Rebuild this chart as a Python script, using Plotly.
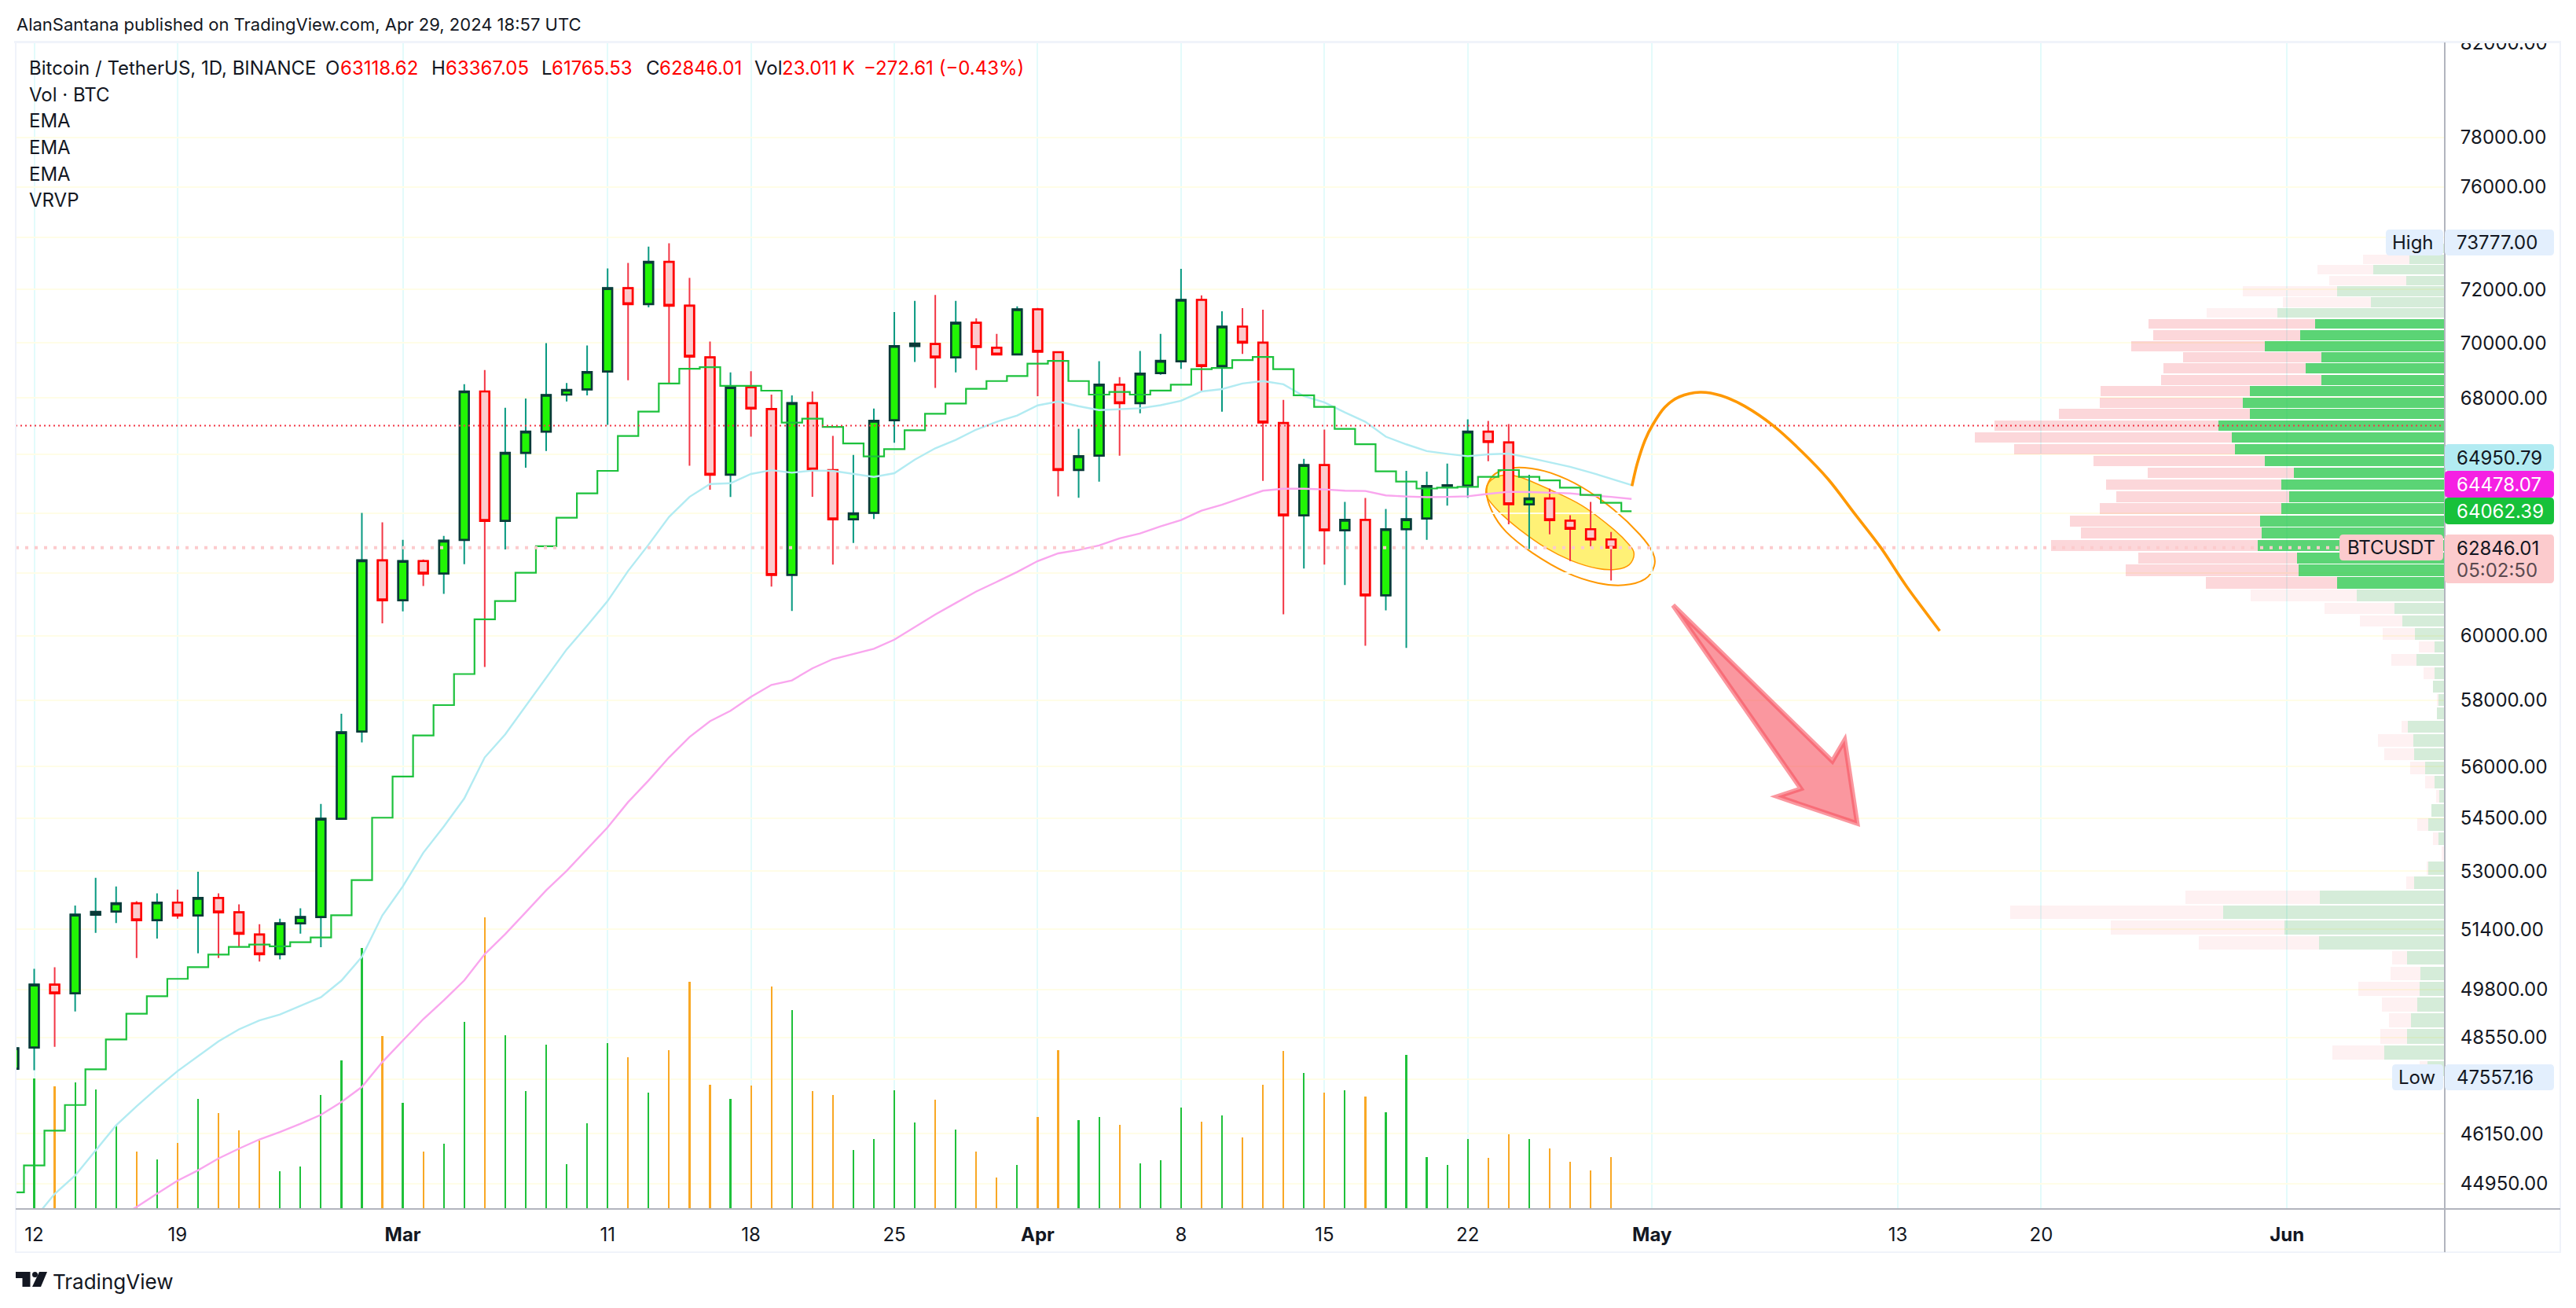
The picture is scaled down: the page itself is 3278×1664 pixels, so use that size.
import pandas as pd
import plotly.graph_objects as go

# ---------- data ----------
opens = [47761,48298,49926,49698,51799,51885,52112,51648,52129,51778,52258,51864,51261,50733,51562,51734,54483,57045,62429,61131,62404,61996,63105,68236,63742,66063,66809,68123,68311,68956,72052,71452,73056,71392,69475,65307,68388,67606,61953,67819,65468,63795,64007,67210,69888,69965,69475,70752,69824,69579,71253,69663,65471,65966,68478,67819,68899,69327,71608,69159,70608,70012,67111,63927,65640,63423,63774,61288,63460,63821,64920,64935,66807,66428,64299,64495,63744,63460,63118.62]
highs = [48357,50340,50381,52047,52812,52575,52166,52381,52489,52985,52381,52079,51540,51691,51972,54911,57584,64007,63689,63105,62454,63238,68495,69014,67653,67984,69994,68539,69908,72804,73014,73645,73777,72443,70052,68928,68965,68123,68095,68236,66658,65994,67625,71151,71572,71791,71572,70917,70340,71361,71307,69680,66906,69332,68755,69706,70340,72789,71782,71181,71301,71241,67930,65855,66879,64378,64511,64140,65440,65413,65690,67238,67183,67072,65307,64829,63927,64378,63367.05]
lows = [47557.16,47722,48317,49222,51303,51573,50630,51152,51691,50754,50630,50928,50534,50594,51282,50920,54483,56717,60392,60774,61589,61334,62302,59017,62787,65551,66132,67874,68095,67044,68639,71331,68538,65615,64795,64545,66630,61571,60787,64551,62286,63000,63803,66417,69302,68363,68927,69014,69579,69579,68067,64569,64522,65071,65966,67459,68841,69054,68207,67514,69600,65095,60677,62159,62286,61624,59682,60805,59613,63105,64256,64522,65772,63622,62797,63291,62404,62893,61765.53]
closes = [48278,49926,49698,51799,51875,52112,51648,52129,51778,52258,51864,51282,50733,51562,51734,54483,57022,62429,61131,62404,61996,63078,68236,63742,66063,66809,68109,68293,68939,72052,71452,73056,71392,69504,65307,68388,67625,61953,67819,65496,63795,63991,67191,69888,69980,69475,70752,69856,69579,71253,69682,65471,65947,68478,67819,68879,69343,71608,69159,70608,70012,67130,63927,65640,63423,63774,61288,63460,63795,64920,64949,66807,66445,64304,64495,63768,63477,63118.62,62846.01]
volumes_k = [21,58.1,54.5,56.3,53.1,37.3,25.5,21.9,29.3,48.9,42.7,35,30.4,16.7,18.8,50.7,66.1,116.2,76.9,47.1,25.5,29,83.3,129.8,77.2,52.5,73.1,19.9,38.1,73.8,67.4,51.7,70.7,101.1,55.3,48.9,54.8,99,88.5,52.5,50.7,26.2,31.1,52.8,38.4,48.6,35.3,25.5,13.9,19.6,40.9,70.7,39.4,40.9,37.3,20.3,21.6,45.1,38.8,41.6,31.7,55.3,70.2,60.5,51.7,52.8,49.9,43,68.5,23,19.6,31.1,22.7,33.2,31.1,26.8,20.9,17,23.011]
ema_green = [44751,45390,46228,46857,47744,48502,49166,49622,50077,50385,50719,50928,50990,50940,51053,51180,51782,52750,54513,55709,56928,57845,58798,60519,61105,62022,62893,63848,64670,65441,66657,67514,68524,69055,69112,68437,68437,68264,67127,67266,66972,66394,65939,66193,66854,67437,67802,68334,68611,68795,69245,69343,68611,68123,68218,68123,68270,68478,69043,69083,69371,69486,69043,68098,67683,66906,66366,65424,65071,64835,64864,64893,65233,65468,65233,65111,64864,64617,64352,64062.39]
ema_blue = [44129,44714,45148,45752,46357,46824,47273,47702,48079,48456,48762,48994,49146,49377,49595,50029,50661,51778,52575,53516,54259,55068,56272,56959,57821,58700,59567,60316,61105,62080,62946,63874,64551,64989,65015,65333,65466,65376,65451,65441,65333,65233,65360,65827,66223,66519,66879,67155,67376,67736,67874,67708,67570,67597,67636,67744,67902,68236,68322,68524,68611,68495,68067,67846,67487,67155,66630,66362,66124,66030,65947,66014,66040,65892,65745,65579,65386,65174,64950.79]
ema_pink = [44129,44407,44718,45027,45272,45557,45792,46015,46195,46395,46615,46929,47305,47930,48476,49025,49512,50034,50733,51271,51864,52467,53007,53617,54236,54963,55592,56272,56881,57357,57671,58097,58463,58602,58976,59262,59433,59586,59872,60265,60672,61041,61411,61724,62047,62404,62658,62771,62919,63157,63317,63557,63768,64086,64285,64522,64760,64829,64829,64803,64760,64750,64599,64564,64538,64551,64569,64654,64723,64713,64683,64670,64599,64551,64478.07]
first_date = "2024-02-11"

# volume-by-price rows, lowest price first
vp_low, vp_high = 47557.16, 73777.00
vp_up = [40,138,86,77,63,57,56,86,286,365,504,284,70,38,1,15,38,31,13,23,45,70,72,84,18,15,27,23,65,23,68,97,115,200,245,332,336,425,416,420,372,354,372,343,409,477,484,515,443,459,443,281,316,281,409,329,295,381,168,245,88,163,81,50]
vp_down = [17,118,61,50,80,139,68,34,273,394,484,306,18,3,7,12,25,0,6,21,34,68,79,14,0,3,0,25,57,36,73,96,158,241,298,393,361,470,411,432,412,393,398,332,390,502,584,509,434,325,340,363,324,314,303,334,378,161,200,214,175,127,105,70]
vp_strong = (34, 56)

y_tickvals = [82000,78000,76000,74000,72000,70000,68000,66000,64000,62000,60000,58000,56000,54500,53000,51400,49800,48550,47500,46150,44950]
x_tickvals = ["2024-02-12","2024-02-19","2024-03-01","2024-03-11","2024-03-18","2024-03-25","2024-04-01","2024-04-08","2024-04-15","2024-04-22","2024-05-01","2024-05-13","2024-05-20","2024-06-01"]
x_ticktext = ["12","19","<b>Mar</b>","11","18","25","<b>Apr</b>","8","15","22","<b>May</b>","13","20","<b>Jun</b>"]
poc_price = 67017
last_close = closes[-1]

# ---------- page geometry ----------
W, H = 3278, 1664
L, R, T, B = 20, 3111, 54, 1538
FONT = "Inter, Roboto, sans-serif"
INK = "#131722"

def px(x): return (x - L) / (R - L)
def py(y): return (B - y) / (B - T)

def smooth(points, closed=False):
    n = len(points)
    def at(i):
        return points[i % n] if closed else points[max(0, min(n - 1, i))]
    d = f"M{px(points[0][0])},{py(points[0][1])}"
    for i in range(n if closed else n - 1):
        p0, p1, p2, p3 = at(i - 1), at(i), at(i + 1), at(i + 2)
        c1 = (p1[0] + (p2[0] - p0[0]) / 6, p1[1] + (p2[1] - p0[1]) / 6)
        c2 = (p2[0] - (p3[0] - p1[0]) / 6, p2[1] - (p3[1] - p1[1]) / 6)
        d += f" C{px(c1[0])},{py(c1[1])} {px(c2[0])},{py(c2[1])} {px(p2[0])},{py(p2[1])}"
    return d + (" Z" if closed else "")

def polygon(points):
    return "M" + " L".join(f"{px(x)},{py(y)}" for x, y in points) + " Z"

def rrect(x0, y0, x1, y1, r=5):
    pts = [(x0 + r, y0), (x1 - r, y0), (x1, y0 + r), (x1, y1 - r), (x1 - r, y1), (x0 + r, y1), (x0, y1 - r), (x0, y0 + r)]
    P = lambda p: f"{px(p[0])},{py(p[1])}"
    return (f"M{P(pts[0])} L{P(pts[1])} Q{P((x1,y0))} {P(pts[2])} L{P(pts[3])} Q{P((x1,y1))} {P(pts[4])} "
            f"L{P(pts[5])} Q{P((x0,y1))} {P(pts[6])} L{P(pts[7])} Q{P((x0,y0))} {P(pts[0])} Z")

# ---------- traces ----------
dates = pd.date_range(first_date, periods=len(opens) + 1, freq="D")
cdates = dates[:len(opens)]
fig = go.Figure()

vol_colors = ["#1fc13b" if c >= o else "#f9a825" for o, c in zip(opens, closes)]
fig.add_trace(go.Bar(x=cdates, y=volumes_k, width=7.3e6, marker=dict(color=vol_colors, line_width=0), xaxis="x", yaxis="y"))

fig.add_trace(go.Candlestick(x=cdates, open=opens, high=highs, low=lows, close=closes, xaxis="x", yaxis="y2",
    increasing=dict(line=dict(color="#089981", width=2), fillcolor="#089981"),
    decreasing=dict(line=dict(color="#f23645", width=2), fillcolor="#f23645")))
fig.add_trace(go.Candlestick(x=cdates, open=opens, close=closes,
    high=[max(o, c) for o, c in zip(opens, closes)], low=[min(o, c) for o, c in zip(opens, closes)],
    xaxis="x", yaxis="y2",
    increasing=dict(line=dict(color="#0a3a38", width=2.7), fillcolor="#22f505"),
    decreasing=dict(line=dict(color="#ff0000", width=2.7), fillcolor="#fccbcd")))

fig.add_trace(go.Scatter(x=dates[-len(ema_blue):], y=ema_blue, mode="lines", line=dict(color="#b2ebf2", width=2.4), xaxis="x", yaxis="y2"))
fig.add_trace(go.Scatter(x=dates[-len(ema_pink):], y=ema_pink, mode="lines", line=dict(color="#f9a6ee", width=2.4), xaxis="x", yaxis="y2"))
fig.add_trace(go.Scatter(x=dates[-len(ema_green):], y=ema_green, mode="lines", line=dict(color="#1cc13c", width=2.2, shape="hvh"), xaxis="x", yaxis="y2"))

step = (vp_high - vp_low) / len(vp_up)
vp_prices = [vp_low + step * (k + 0.5) for k in range(len(vp_up))]
strong = [vp_strong[0] <= k <= vp_strong[1] for k in range(len(vp_up))]
fig.add_trace(go.Bar(orientation="h", y=vp_prices, x=vp_up, width=step * 0.89, xaxis="x2", yaxis="y2",
    marker=dict(color=["rgba(28,196,64,.72)" if s else "rgba(46,160,67,.2)" for s in strong], line_width=0)))
fig.add_trace(go.Bar(orientation="h", y=vp_prices, x=vp_down, width=step * 0.89, xaxis="x2", yaxis="y2",
    marker=dict(color=["rgba(242,54,69,.2)" if s else "rgba(242,54,69,.07)" for s in strong], line_width=0)))

VP_SPAN = 5520
fig.add_trace(go.Scatter(x=[VP_SPAN, 0], y=[poc_price, poc_price], mode="lines", xaxis="x2", yaxis="y2",
    line=dict(color="#f23645", width=2, dash="2px,4px")))
fig.add_trace(go.Scatter(x=[VP_SPAN, 0], y=[last_close, last_close], mode="lines", xaxis="x2", yaxis="y2",
    line=dict(color="#fccbcd", width=4, dash="4px,8px")))

# ---------- drawings ----------
z8 = lambda pts: [(1800 + a / 3, 480 + b / 3) for a, b in pts]
z11 = lambda pts: [(2060 + a / 3, 480 + b / 3) for a, b in pts]
z12 = lambda pts: [(2100 + a / 3, 750 + b / 3) for a, b in pts]
yellow = z8([(272,440),(285,400),(330,375),(400,380),(520,430),(640,490),(760,580),(820,640),(838,675),(820,715),(770,733),(700,730),(600,700),(500,650),(400,580),(330,520),(285,470)])
outer = z8([(275,430),(300,375),(350,350),(420,345),(520,365),(640,420),(760,505),(860,600),(910,670),(915,720),(880,770),(800,793),(700,785),(580,745),(450,670),(350,590),(295,510)])
curve = z11([(50,415),(70,330),(100,240),(130,180),(175,115),(230,75),(310,57),(390,70),(480,110),(590,185),(700,285),(800,390),(900,520),(1000,650),(1100,800),(1225,968)])
arrow = z12([(87,60),(695,655),(742,575),(790,893),(485,790),(575,760)])

def paper_shape(path, layer="above", **kw):
    return dict(type="path", path=path, xref="paper", yref="paper", layer=layer, **kw)

shapes = [
    paper_shape(smooth(yellow, True), "below", fillcolor="#fff176", line=dict(color="#ff9800", width=1.5)),
    paper_shape(smooth(outer, True), "below", fillcolor="rgba(0,0,0,0)", line=dict(color="#ff9800", width=2)),
    paper_shape(smooth(curve), fillcolor="rgba(0,0,0,0)", line=dict(color="#ff9800", width=3.6)),
    paper_shape(polygon(arrow), fillcolor="rgba(247,82,95,.6)", line=dict(color="rgba(247,82,95,.6)", width=6)),
]
def rect(x0, y0, x1, y1, fill):
    return dict(type="rect", xref="paper", yref="paper", x0=px(x0), x1=px(x1), y0=py(y0), y1=py(y1), fillcolor=fill, line_width=0, layer="above")
shapes += [
    rect(3112, 20, 3262, 52, "#ffffff"),           # crops the topmost tick label at the frame
    rect(L - 2, T - 2, 3259, T + 1, "#f0f3fa"),
    rect(L - 1, T, L + 1, 1593, "#f0f3fa"),
    rect(3257, T, 3259, 1594, "#f0f3fa"),
    rect(L - 1, 1592, 3259, 1594, "#f0f3fa"),
    rect(R - 1, T, R + 1, 1593, "#b2b5be"),
    rect(L, B - 1, 3258, B + 1, "#b2b5be"),
]
labels = [
    (3036, 292, 3109, 325, "#e3effd", "High", INK, 3109 - 12, "right"),
    (3111, 292, 3250, 325, "#e3effd", "73777.00", INK, 3126, "left"),
    (3044, 1354, 3109, 1387, "#e3effd", "Low", INK, 3109 - 10, "right"),
    (3111, 1354, 3250, 1387, "#e3effd", "47557.16", INK, 3126, "left"),
    (3111, 565, 3250, 599, "#b2ebf2", "64950.79", INK, 3126, "left"),
    (3111, 599, 3250, 633, "#f521e3", "64478.07", "#ffffff", 3126, "left"),
    (3111, 633, 3250, 667, "#17c13a", "64062.39", "#ffffff", 3126, "left"),
    (2977, 680, 3109, 713, "#fccbcd", "BTCUSDT", INK, 2987, "left"),
]
annotations = []
def text(x, y, s, color=INK, size=24, anchor="left", family=FONT):
    annotations.append(dict(x=px(x), y=py(y), xref="paper", yref="paper", text=s, showarrow=False, xanchor=anchor, yanchor="middle",
                            font=dict(family=family, size=size, color=color), borderpad=0, borderwidth=0))
for x0, y0, x1, y1, fill, s, col, tx, anc in labels:
    shapes.append(paper_shape(rrect(x0, y0, x1, y1), fillcolor=fill, line_width=0))
    text(tx, (y0 + y1) / 2, s, col, anchor=anc)
shapes.append(paper_shape(rrect(3111, 680, 3250, 742), fillcolor="#fccbcd", line_width=0))
text(3126, 697, "62846.01")
text(3126, 725, "05:02:50", "#5b4a50")

# TradingView logo
shapes += [
    paper_shape(polygon([(20,1618),(38.5,1618),(38.5,1637),(28.5,1637),(28.5,1626),(20,1626)]), fillcolor="#131722", line_width=0),
    paper_shape(polygon([(50,1618),(60,1618),(52,1637),(41,1637)]), fillcolor="#131722", line_width=0),
    dict(type="circle", xref="paper", yref="paper", x0=px(41), x1=px(48), y0=py(1618), y1=py(1625), fillcolor="#131722", line_width=0, layer="above"),
]
text(67, 1631, "TradingView", size=26)

RED = "#ff0000"
text(21, 31, "AlanSantana published on TradingView.com, Apr 29, 2024 18:57 UTC", size=22)
text(37, 86, "Bitcoin / TetherUS, 1D, BINANCE", size=24)
for x, a, vx, v in [(414,"O",433,"63118.62"),(549,"H",567,"63367.05"),(689,"L",702,"61765.53"),(822,"C",839,"62846.01"),(960,"Vol",995,"23.011 K")]:
    text(x, 86, a); text(vx, 86, v, RED)
text(1099, 86, "−272.61 (−0.43%)", RED)
for y, s in [(120,"Vol · BTC"),(154,"EMA"),(188,"EMA"),(221,"EMA"),(255,"VRVP")]:
    text(37, y, s)

fig.update_layout(
    width=W, height=H, margin=dict(l=L, r=W - R, t=T, b=H - B, pad=0, autoexpand=False),
    paper_bgcolor="#ffffff", plot_bgcolor="#ffffff", showlegend=False, hovermode=False,
    barmode="stack", boxgap=0.36, shapes=shapes, annotations=annotations,
    font=dict(family=FONT, size=24, color=INK),
    xaxis=dict(type="date", range=["2024-02-11 02:21", "2024-06-08 17:00"], tickvals=x_tickvals, ticktext=x_ticktext, tickangle=0,
               showgrid=True, gridcolor="#e3fbfb", gridwidth=2, zeroline=False, showline=False, ticks="outside", ticklen=11,
               tickcolor="rgba(0,0,0,0)", rangeslider=dict(visible=False), tickfont=dict(size=24, color=INK)),
    xaxis2=dict(overlaying="x", range=[VP_SPAN, 0], visible=False, showgrid=False, zeroline=False),
    yaxis=dict(range=[0, 519.4], visible=False, showgrid=False, zeroline=False),
    yaxis2=dict(type="log", overlaying="y", side="right", range=[4.64699, 4.91386], tickvals=y_tickvals,
                ticktext=[f"{v:.2f}" for v in y_tickvals], showgrid=True, gridcolor="#fffde7", gridwidth=2, zeroline=False,
                ticks="outside", ticklen=14, tickcolor="rgba(0,0,0,0)", tickfont=dict(size=24, color=INK), showline=False),
)

fig.write_html("out.html", config={"displayModeBar": False}, post_script="document.body.style.margin='0';document.body.style.overflow='hidden';")
